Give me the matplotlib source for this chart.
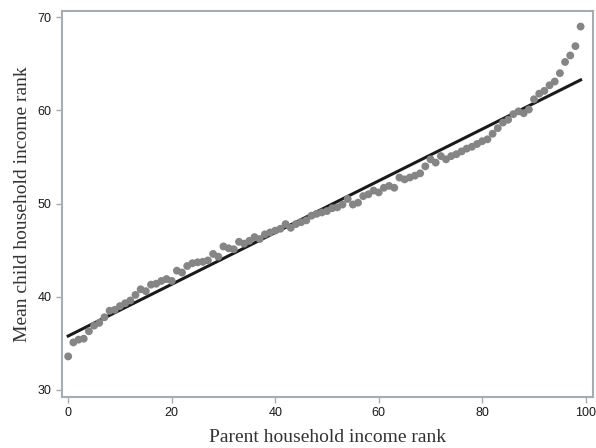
import numpy as np
import matplotlib
matplotlib.use('Agg')
import matplotlib.pyplot as plt

# parent income percentile (0-99) and mean child income rank
parent_rank = np.arange(100)
child_rank = [33.6, 35.1, 35.4, 35.5, 36.3, 36.9, 37.2, 37.8, 38.5, 38.6,
              39.0, 39.3, 39.6, 40.2, 40.8, 40.6, 41.3, 41.4, 41.7, 41.9,
              41.7, 42.8, 42.6, 43.3, 43.6, 43.7, 43.75, 43.9, 44.6, 44.3,
              45.4, 45.2, 45.1, 45.9, 45.7, 46.0, 46.4, 46.2, 46.7, 46.9,
              47.1, 47.3, 47.8, 47.4, 47.8, 48.0, 48.2, 48.7, 48.9, 49.05,
              49.2, 49.5, 49.6, 49.9, 50.5, 49.9, 50.1, 50.8, 51.0, 51.4,
              51.2, 51.7, 51.9, 51.7, 52.8, 52.6, 52.8, 53.0, 53.25, 54.0,
              54.75, 54.4, 55.1, 54.75, 55.1, 55.3, 55.6, 55.9, 56.1, 56.4,
              56.7, 56.9, 57.5, 58.1, 58.7, 59.0, 59.6, 59.9, 59.7, 60.1,
              61.2, 61.8, 62.1, 62.7, 63.1, 64.0, 65.2, 65.9, 66.9, 69.0]

xticks = [0, 20, 40, 60, 80, 100]
yticks = [30, 40, 50, 60, 70]

slope, intercept = np.polyfit(parent_rank, child_rank, 1)

spine_col = '#a3adb4'

fig = plt.figure(figsize=(5.96, 4.48), dpi=100)
ax = fig.add_axes([0.104, 0.114, 0.891, 0.861])

ax.scatter(parent_rank, child_rank, s=32, color='#858585', edgecolors='none', zorder=3)
ax.plot(parent_rank, intercept + slope * parent_rank, color='#1a1a1a', lw=2.2, zorder=2)

ax.set_xlim(-1.2, 101.4)
ax.set_ylim(29.25, 70.65)
ax.set_xticks(xticks)
ax.set_yticks(yticks)
for s in ax.spines.values():
    s.set_color(spine_col)
    s.set_linewidth(1.5)
ax.tick_params(colors=spine_col, length=4, width=1, direction='out')
for lab in ax.get_xticklabels() + ax.get_yticklabels():
    lab.set_color('#1a1a1a')
    lab.set_fontfamily('Liberation Sans')
    lab.set_fontsize(9)

ax.set_xlabel('Parent household income rank', family='Liberation Serif', fontsize=14,
              color='#333333', labelpad=7)
ax.set_ylabel('Mean child household income rank', family='Liberation Serif', fontsize=14,
              color='#333333', labelpad=5)

fig.savefig('out.png', dpi=100)
